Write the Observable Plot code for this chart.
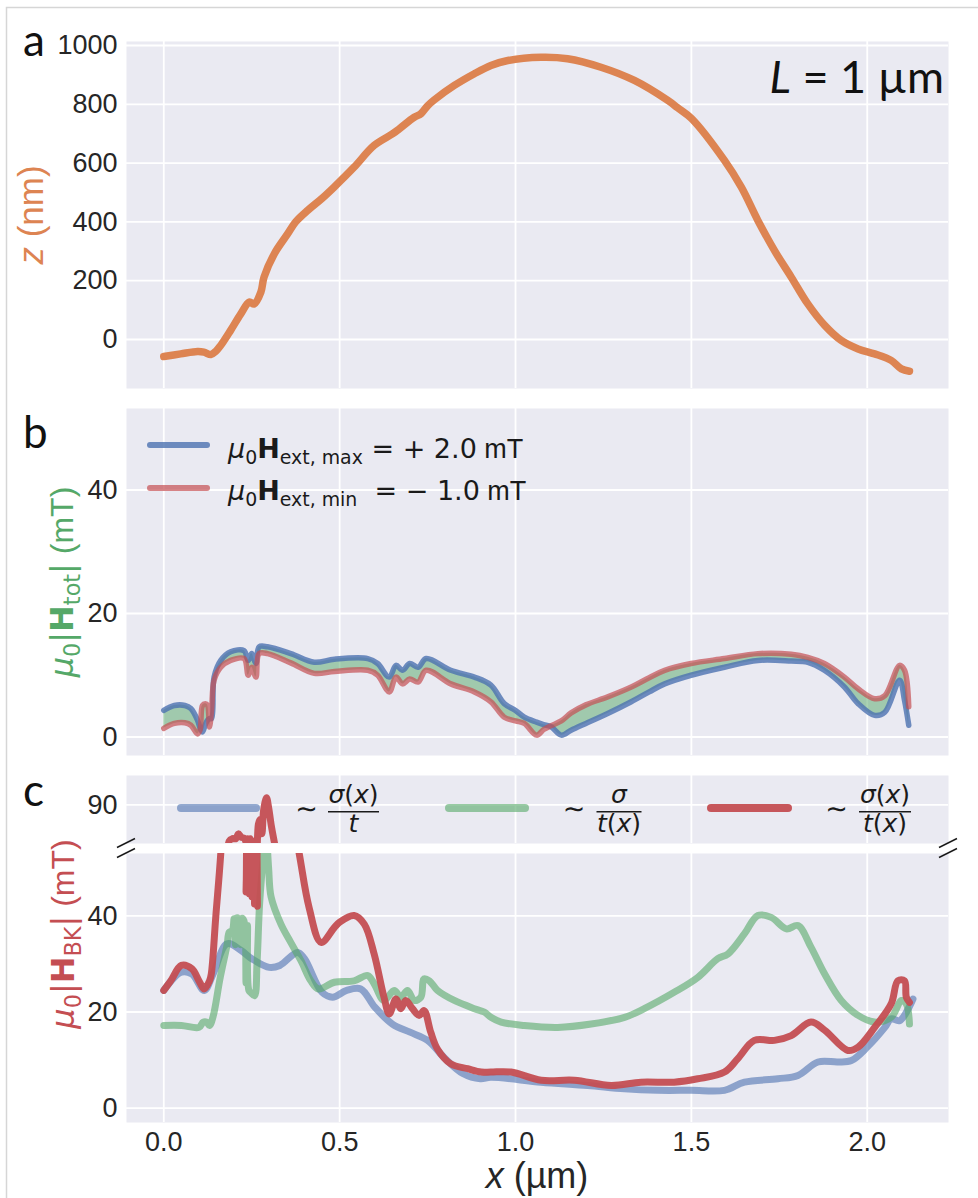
<!DOCTYPE html>
<html>
<head>
<meta charset="utf-8">
<script src="https://cdn.jsdelivr.net/npm/d3@7"></script>
<script src="https://cdn.jsdelivr.net/npm/@observablehq/plot@0.6"></script>
<style>
  body { margin: 0; background: #fff; }
  #fig { position: relative; width: 978px; height: 1198px; overflow: hidden; background: #fff; }
  #fig > svg { position: absolute; left: 0; }
</style>
</head>
<body>
<div id="fig"></div>
<script>
// ---------- data ----------
// (a) height profile z(x) of the curved strip
const xA = [0, 0.048, 0.096, 0.114, 0.134, 0.148, 0.162, 0.19, 0.219, 0.243, 0.257, 0.276, 0.285, 0.314, 0.352, 0.375, 0.41, 0.45, 0.484, 0.541, 0.598, 0.651, 0.67, 0.712, 0.731, 0.75, 0.769, 0.826, 0.883, 0.93, 0.978, 1.073, 1.148, 1.243, 1.338, 1.433, 1.46, 1.5, 1.594, 1.642, 1.689, 1.736, 1.784, 1.831, 1.879, 1.926, 1.974, 2.021, 2.068, 2.097, 2.12];
const zA = [-58, -49, -41, -43, -51, -40, -20, 31, 87, 127, 121, 161, 212, 291, 359, 400, 440, 480, 518, 586, 660, 700, 717, 756, 768, 795, 815, 864, 904, 932, 949, 960, 955, 926, 881, 813, 789, 752, 609, 518, 405, 303, 212, 121, 48, -3, -32, -49, -71, -100, -108];

// (b) total field magnitude for the two extreme external fields
const xB = [0, 0.03, 0.06, 0.077, 0.096, 0.103, 0.11, 0.118, 0.124, 0.13, 0.136, 0.143, 0.162, 0.19, 0.228, 0.24, 0.25, 0.262, 0.271, 0.295, 0.361, 0.428, 0.485, 0.58, 0.608, 0.641, 0.66, 0.679, 0.699, 0.723, 0.746, 0.816, 0.883, 0.93, 0.968, 1.0, 1.025, 1.06, 1.08, 1.1, 1.13, 1.158, 1.2, 1.262, 1.329, 1.38, 1.424, 1.499, 1.594, 1.689, 1.784, 1.831, 1.878, 1.935, 1.974, 2.021, 2.05, 2.092, 2.106, 2.118];
const hMax = [4.3, 5.1, 5.1, 4.6, 2.7, 1.5, 0.8, 2.0, 2.7, 3.0, 3.0, 9.7, 12.4, 13.8, 14.0, 12.4, 13.5, 11.9, 14.6, 14.6, 13.5, 12.1, 12.6, 12.7, 11.9, 9.7, 11.6, 10.8, 11.9, 11.3, 12.7, 10.8, 9.7, 8.4, 5.4, 4.3, 3.2, 2.4, 2.0, 1.7, 0.3, 1.1, 2.2, 3.8, 5.7, 7.3, 8.6, 10.0, 11.3, 12.4, 12.3, 12.1, 10.8, 8.1, 5.4, 3.5, 4.0, 9.2, 5.9, 1.9];
const hMin = [1.4, 2.2, 2.3, 1.9, 0.5, 1.1, 5.1, 5.4, 5.2, 1.6, 4.5, 9.2, 11.3, 12.4, 12.7, 10.0, 11.3, 9.7, 13.5, 13.5, 12.0, 10.3, 10.6, 10.8, 10.0, 7.3, 9.7, 8.6, 9.4, 8.9, 10.8, 8.6, 7.3, 5.7, 3.2, 2.6, 2.2, 0.3, 1.2, 1.8, 2.6, 3.9, 5.2, 6.5, 8.1, 9.6, 10.8, 11.9, 12.7, 13.5, 13.4, 12.9, 11.9, 9.7, 7.8, 6.2, 6.7, 11.6, 10.8, 4.9];

// (c) Bloch-Koch field estimates
const xSig = [0, 0.05, 0.08, 0.115, 0.14, 0.18, 0.22, 0.25, 0.3, 0.33, 0.38, 0.4, 0.45, 0.48, 0.52, 0.56, 0.6, 0.65, 0.7, 0.75, 0.8, 0.85, 0.9, 0.93, 1.073, 1.205, 1.31, 1.404, 1.5, 1.594, 1.651, 1.746, 1.803, 1.86, 1.917, 1.955, 2.0, 2.05, 2.068, 2.092, 2.13];
const hSig = [24.5, 28.3, 27.9, 24.5, 27.9, 34.2, 32.8, 31.1, 29.3, 29.7, 32.4, 31.1, 24.1, 23.1, 24.5, 24.8, 21.0, 17.5, 15.8, 14.1, 10.3, 7.2, 6.1, 6.4, 5.4, 4.7, 4.0, 3.7, 3.7, 3.7, 5.4, 6.1, 6.8, 9.6, 9.6, 9.9, 12.7, 16.8, 18.6, 18.2, 22.7];

const xThk = [0, 0.05, 0.1, 0.112, 0.122, 0.13, 0.14, 0.16, 0.18, 0.186, 0.195, 0.2, 0.204, 0.208, 0.214, 0.218, 0.222, 0.228, 0.234, 0.238, 0.242, 0.248, 0.258, 0.265, 0.272, 0.28, 0.29, 0.298, 0.305, 0.333, 0.361, 0.39, 0.418, 0.44, 0.485, 0.541, 0.58, 0.598, 0.626, 0.655, 0.674, 0.693, 0.712, 0.731, 0.74, 0.755, 0.778, 0.826, 0.883, 0.911, 0.93, 0.959, 1.025, 1.12, 1.215, 1.31, 1.366, 1.451, 1.518, 1.575, 1.604, 1.651, 1.689, 1.727, 1.77, 1.803, 1.84, 1.879, 1.926, 1.974, 2.021, 2.068, 2.097, 2.111, 2.12];
const hThk = [17.2, 17.2, 16.8, 17.9, 17.9, 17.2, 19.0, 27.0, 34.0, 36.6, 37.0, 39.4, 34.0, 39.6, 39.0, 34.0, 39.5, 39.0, 26.0, 38.0, 24.5, 24.0, 23.4, 30.0, 42.0, 50.0, 58.0, 50.0, 44.0, 38.3, 34.5, 30.7, 26.5, 24.8, 26.2, 26.5, 27.6, 25.9, 22.4, 24.5, 23.1, 24.5, 22.4, 23.1, 26.9, 26.5, 24.5, 22.4, 20.7, 20.0, 18.9, 17.9, 17.2, 16.8, 17.5, 18.9, 20.7, 24.1, 27.2, 31.1, 32.1, 36.3, 40.1, 39.7, 37.3, 38.0, 33.5, 27.9, 22.4, 19.3, 17.9, 18.9, 22.4, 21.7, 17.5];

const xBoth = [0, 0.02, 0.05, 0.08, 0.1, 0.115, 0.13, 0.135, 0.148, 0.162, 0.175, 0.186, 0.195, 0.205, 0.212, 0.22, 0.23, 0.234, 0.238, 0.242, 0.246, 0.25, 0.254, 0.258, 0.262, 0.266, 0.269, 0.274, 0.279, 0.284, 0.292, 0.298, 0.305, 0.32, 0.35, 0.385, 0.413, 0.447, 0.485, 0.5, 0.541, 0.57, 0.598, 0.626, 0.641, 0.66, 0.674, 0.688, 0.707, 0.726, 0.74, 0.759, 0.778, 0.816, 0.864, 0.902, 0.93, 0.987, 1.073, 1.167, 1.272, 1.357, 1.451, 1.518, 1.594, 1.632, 1.679, 1.736, 1.784, 1.84, 1.879, 1.945, 1.974, 2.021, 2.068, 2.087, 2.106, 2.111, 2.12];
const hBoth = [24.5, 26.5, 29.7, 29.0, 26.5, 24.8, 26.5, 27.9, 40.0, 53.0, 70.0, 82.5, 83.0, 83.0, 84.0, 83.3, 83.0, 45.0, 83.0, 44.6, 83.0, 44.0, 82.5, 42.5, 80.0, 42.0, 86.0, 87.0, 84.0, 89.0, 91.5, 89.5, 86.0, 80.0, 67.0, 53.0, 41.8, 34.5, 37.6, 38.7, 40.1, 38.3, 32.1, 23.1, 19.6, 22.7, 20.7, 22.4, 20.7, 19.3, 20.3, 15.8, 12.3, 9.2, 8.2, 7.5, 7.5, 7.5, 5.8, 5.8, 4.7, 5.4, 5.4, 6.1, 7.5, 10.3, 14.1, 14.1, 15.1, 17.9, 16.2, 12.0, 12.7, 16.8, 21.7, 26.5, 26.5, 23.1, 22.0];

// tick values
const xTicks = [0, 0.5, 1, 1.5, 2];
const zTicks = [0, 200, 400, 600, 800, 1000];
const hTicks = [0, 20, 40];
const hTicksTop = [90];

// ---------- styling ----------
const BLUE = "#4C72B0", ORANGE = "#DD8452", GREEN = "#55A868", RED = "#C44E52";
const BG = "#EAEAF2", INK = "#262626";
const X_DOMAIN = [-0.106, 2.231];
const CURVE = "catmull-rom";

const fig = document.getElementById("fig");

function table(xs, ys) { return xs.map((x, i) => ({x, y: ys[i]})); }

function panel({top, height, marginTop, marginBottom, yDomain, yTicks, marks, xLabels = false}) {
  const svg = Plot.plot({
    width: 978, height,
    marginLeft: 126, marginRight: 30, marginTop, marginBottom,
    style: {background: "transparent", fontFamily: "'Liberation Sans', Arial, sans-serif", fontSize: "27px", color: INK},
    x: {domain: X_DOMAIN, ...(xLabels ? {} : {axis: null})},
    y: {domain: yDomain},
    marks: [
      Plot.frame({fill: BG, stroke: "none"}),
      Plot.gridX(xTicks, {stroke: "#fff", strokeOpacity: 1, strokeWidth: 1.8}),
      Plot.gridY(yTicks, {stroke: "#fff", strokeOpacity: 1, strokeWidth: 1.8}),
      Plot.axisY(yTicks, {tickSize: 0, tickPadding: 9, label: null, fill: INK, tickFormat: d => String(d)}),
      ...(xLabels ? [Plot.axisX(xTicks, {tickSize: 0, tickPadding: 9, label: null, fill: INK, tickFormat: d3.format(".1f")})] : []),
      ...marks
    ]
  });
  svg.style.top = top + "px";
  fig.appendChild(svg);
  return svg;
}

// (a)
panel({
  top: 0, height: 400, marginTop: 41, marginBottom: 12,
  yDomain: [-166.7, 1013.6], yTicks: zTicks,
  marks: [Plot.line(table(xA, zA), {x: "x", y: "y", stroke: ORANGE, strokeWidth: 7.5, curve: CURVE, clip: true})]
});

// (b)
const dataB = xB.map((x, i) => ({x, hi: hMax[i], lo: hMin[i]}));
panel({
  top: 400, height: 360, marginTop: 8, marginBottom: 5,
  yDomain: [-3, 53.2], yTicks: hTicks,
  marks: [
    Plot.areaY(dataB, {x: "x", y1: "lo", y2: "hi", fill: GREEN, fillOpacity: 0.5, curve: CURVE, clip: true}),
    Plot.line(dataB, {x: "x", y: "hi", stroke: BLUE, strokeWidth: 5.5, strokeOpacity: 0.8, curve: CURVE, clip: true}),
    Plot.line(dataB, {x: "x", y: "lo", stroke: RED, strokeWidth: 5.5, strokeOpacity: 0.7, curve: CURVE, clip: true})
  ]
});

// (c) broken axis: an upper strip and the main lower range
const cMarks = () => [
  Plot.line(table(xSig, hSig), {x: "x", y: "y", stroke: BLUE, strokeWidth: 7, strokeOpacity: 0.6, curve: CURVE, clip: true}),
  Plot.line(table(xThk, hThk), {x: "x", y: "y", stroke: GREEN, strokeWidth: 7, strokeOpacity: 0.6, curve: CURVE, clip: true}),
  Plot.line(table(xBoth, hBoth), {x: "x", y: "y", stroke: RED, strokeWidth: 7, strokeOpacity: 0.95, curve: CURVE, clip: true})
];
panel({
  top: 765, height: 80, marginTop: 10, marginBottom: 2,
  yDomain: [82, 96.1], yTicks: hTicksTop, marks: cMarks()
});
panel({
  top: 848, height: 350, marginTop: 5, marginBottom: 76,
  yDomain: [-3, 53], yTicks: hTicks, marks: cMarks(), xLabels: true
});

// ---------- labels, legends, break marks ----------
const ov = d3.select(fig).append("svg")
  .attr("width", 978).attr("height", 1198)
  .style("top", "0px").style("pointer-events", "none");

ov.append("rect").attr("x", 6.5).attr("y", 7.5).attr("width", 1000).attr("height", 1300)
  .attr("fill", "none").attr("stroke", "#d6d6d6").attr("stroke-width", 1.5);

function mathText(g, x, y, parts, o) {
  const t = g.append("text").attr("x", x).attr("y", y)
    .attr("font-family", o.family || "'DejaVu Sans'")
    .attr("font-size", o.size).attr("fill", o.fill || "#1a1a1a")
    .attr("text-anchor", o.anchor || "start").style("white-space", "pre");
  let shift = 0;
  for (const p of parts) {
    const [s, f] = typeof p === "string" ? [p, {}] : p;
    const target = f.sub ? o.size * 0.22 : 0;
    const ts = t.append("tspan").text(s).attr("dy", target - shift);
    shift = target;
    if (f.sub) ts.attr("font-size", o.size * 0.7);
    if (f.i) ts.attr("font-style", "italic");
    if (f.b) ts.attr("font-weight", "bold");
    if (f.fam) ts.attr("font-family", f.fam);
  }
  return t;
}
const SANS = "'Liberation Sans', Arial, sans-serif";

// panel letters and the length annotation
for (const [s, y] of [["a", 56], ["b", 448], ["c", 806]]) {
  ov.append("text").attr("x", 23).attr("y", y).attr("font-family", "Lato, 'Open Sans', sans-serif")
    .attr("font-size", 44).attr("fill", "#111").text(s);
}
mathText(ov, 944, 93, [["L", {i: true}], " = 1 µm"], {size: 45, family: "Lato, 'Open Sans', sans-serif", anchor: "end", fill: "#111"});

// axis titles
function rotated(x, y, parts, o) {
  const g = ov.append("g").attr("transform", `translate(${x},${y}) rotate(-90)`);
  mathText(g, 0, 0, parts, {...o, anchor: "middle"});
}
rotated(43, 215, [["z", {i: true}], " (nm)"], {size: 35, family: SANS, fill: ORANGE});
rotated(73, 582, [["μ", {i: true}], ["0", {sub: true}], "|", ["H", {b: true}], ["tot", {sub: true}], "|", [" (mT)", {fam: SANS}]], {size: 32, fill: GREEN});
rotated(74, 934, [["μ", {i: true}], ["0", {sub: true}], "|", ["H", {b: true}], ["BK", {sub: true}], "|", [" (mT)", {fam: SANS}]], {size: 32, fill: RED});
mathText(ov, 537, 1188, [["x", {i: true}], " (µm)"], {size: 36, family: SANS, anchor: "middle", fill: INK});

// legend (b)
const legB = [
  {y: 445, color: BLUE, op: 0.8, parts: [["μ", {i: true}], ["0", {sub: true}], ["H", {b: true}], ["ext, max", {sub: true}], " = + 2.0", [" mT", {fam: SANS}]], base: 458},
  {y: 488, color: RED, op: 0.7, parts: [["μ", {i: true}], ["0", {sub: true}], ["H", {b: true}], ["ext, min", {sub: true}], "  = − 1.0", [" mT", {fam: SANS}]], base: 500}
];
for (const e of legB) {
  ov.append("line").attr("x1", 150).attr("x2", 207).attr("y1", e.y).attr("y2", e.y)
    .attr("stroke", e.color).attr("stroke-opacity", e.op).attr("stroke-width", 6).attr("stroke-linecap", "round");
  mathText(ov, 228, e.base, e.parts, {size: 27});
}

// legend (c)
const legC = [
  {x0: 181, x1: 256, color: BLUE, op: 0.6, tilde: 306.5, fx: 353.5, fw: 51, num: [["σ", {i: true}], "(", ["x", {i: true}], ")"], den: [["t", {i: true}]]},
  {x0: 449, x1: 525, color: GREEN, op: 0.6, tilde: 574, fx: 619, fw: 45, num: [["σ", {i: true}]], den: [["t", {i: true}], "(", ["x", {i: true}], ")"]},
  {x0: 711, x1: 788, color: RED, op: 0.95, tilde: 836.5, fx: 885, fw: 52, num: [["σ", {i: true}], "(", ["x", {i: true}], ")"], den: [["t", {i: true}], "(", ["x", {i: true}], ")"]}
];
for (const e of legC) {
  ov.append("line").attr("x1", e.x0).attr("x2", e.x1).attr("y1", 808).attr("y2", 808)
    .attr("stroke", e.color).attr("stroke-opacity", e.op).attr("stroke-width", 8).attr("stroke-linecap", "round");
  mathText(ov, e.tilde, 818, ["∼"], {size: 27, anchor: "middle"});
  mathText(ov, e.fx, 803, e.num, {size: 25, anchor: "middle"});
  ov.append("line").attr("x1", e.fx - e.fw / 2).attr("x2", e.fx + e.fw / 2).attr("y1", 811.7).attr("y2", 811.7)
    .attr("stroke", "#1a1a1a").attr("stroke-width", 1.5);
  mathText(ov, e.fx, 832, e.den, {size: 25, anchor: "middle"});
}

// break marks at the axis gap
for (const cx of [126, 948]) {
  for (const cy of [843, 853]) {
    ov.append("line").attr("x1", cx - 9).attr("y1", cy + 4.5).attr("x2", cx + 9).attr("y2", cy - 4.5)
      .attr("stroke", "#1a1a1a").attr("stroke-width", 1.5);
  }
}
</script>
</body>
</html>
